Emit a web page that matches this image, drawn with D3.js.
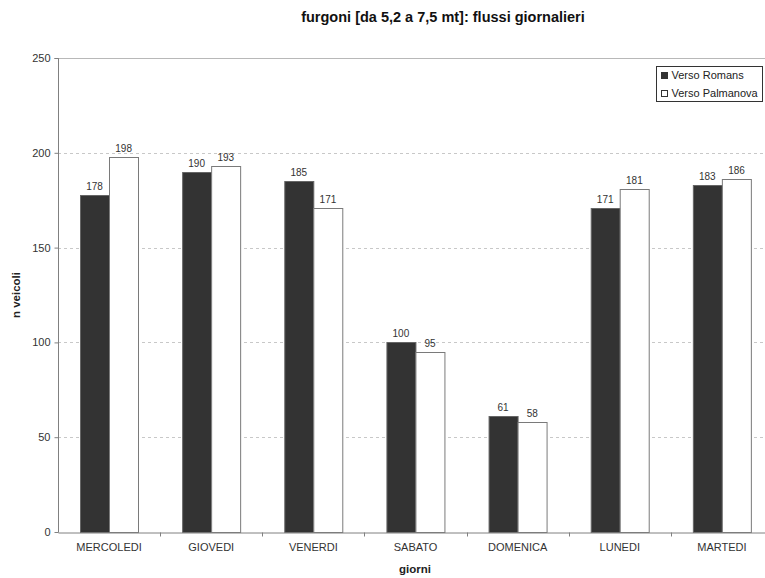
<!DOCTYPE html>
<html>
<head>
<meta charset="utf-8">
<script src="https://cdn.jsdelivr.net/npm/d3@7"></script>
<style>
  body { margin: 0; background: #fff; }
  svg { display: block; font-family: "Liberation Sans", Arial, sans-serif; }
</style>
</head>
<body>
<svg id="chart" width="765" height="578"></svg>
<script>
// dati: furgoni [da 5,2 a 7,5 mt]
const giorni = ['MERCOLEDI', 'GIOVEDI', 'VENERDI', 'SABATO', 'DOMENICA', 'LUNEDI', 'MARTEDI'];
const versoRomans = [178, 190, 185, 100, 61, 171, 183];
const versoPalmanova = [198, 193, 171, 95, 58, 181, 186];
const serie = ['Verso Romans', 'Verso Palmanova'];
const yTicks = [0, 50, 100, 150, 200, 250];

const svg = d3.select('#chart');
const m = { left: 58, top: 58, right: 773, bottom: 532 };

const x = d3.scaleBand().domain(giorni).range([m.left, m.right]).paddingInner(0).paddingOuter(0);
const inner = d3.scaleBand().domain(serie).range([0, x.bandwidth()]).paddingInner(0).paddingOuter(0.75);
const y = d3.scaleLinear().domain([0, 250]).range([m.bottom, m.top]);

const fills = { 'Verso Romans': '#333333', 'Verso Palmanova': '#ffffff' };
const strokes = { 'Verso Romans': '#666666', 'Verso Palmanova': '#7a7a7a' };

// gridlines
svg.append('g')
  .selectAll('line')
  .data(yTicks.filter((t) => t > 0))
  .join('line')
  .attr('x1', m.left).attr('x2', m.right)
  .attr('y1', (d) => Math.round(y(d)) + 0.5).attr('y2', (d) => Math.round(y(d)) + 0.5)
  .attr('stroke', (d) => (d === 250 ? '#b8b8b8' : '#c8c8c8'))
  .attr('stroke-dasharray', (d) => (d === 250 ? null : '3,3'));

// bars
const rows = giorni.map((g, i) => ({ g, vals: [versoRomans[i], versoPalmanova[i]] }));
const grp = svg.append('g')
  .selectAll('g')
  .data(rows)
  .join('g')
  .attr('transform', (d) => `translate(${x(d.g)},0)`);

grp.selectAll('rect')
  .data((d) => d.vals.map((v, j) => ({ s: serie[j], v })))
  .join('rect')
  .attr('x', (d) => Math.round(inner(d.s)) + 0.5)
  .attr('y', (d) => Math.round(y(d.v)) + 0.5)
  .attr('width', (d) => Math.round(inner.bandwidth()))
  .attr('height', (d) => Math.round(y(0)) - Math.round(y(d.v)))
  .attr('fill', (d) => fills[d.s])
  .attr('stroke', (d) => strokes[d.s])
  .attr('stroke-width', 1);

grp.selectAll('text')
  .data((d) => d.vals.map((v, j) => ({ s: serie[j], v })))
  .join('text')
  .attr('x', (d) => inner(d.s) + inner.bandwidth() / 2)
  .attr('y', (d) => y(d.v) - 5)
  .attr('text-anchor', 'middle')
  .attr('font-size', 10)
  .attr('fill', '#333')
  .text((d) => d.v);

// axes
const yAxis = svg.append('g')
  .attr('transform', `translate(${m.left + 0.5},0)`)
  .call(d3.axisLeft(y).tickValues(yTicks).tickSize(4).tickPadding(4));
yAxis.select('.domain').attr('stroke', '#808080').attr('d', `M-4,${Math.round(y(250)) + 0.5}H0V${Math.round(y(0)) + 0.5}`);
yAxis.selectAll('.tick line').attr('stroke', '#808080');
yAxis.selectAll('text').attr('font-size', 11).attr('fill', '#333').attr('font-family', null);

const xAxis = svg.append('g')
  .attr('transform', `translate(0,${Math.round(y(0)) + 0.5})`)
  .call(d3.axisBottom(x).tickSize(0).tickPadding(11));
xAxis.select('.domain').attr('stroke', '#808080');
xAxis.selectAll('text').attr('font-size', 11).attr('fill', '#333').attr('font-family', null);
// category separator ticks
xAxis.append('g')
  .selectAll('line')
  .data(giorni.slice(1))
  .join('line')
  .attr('x1', (d) => Math.round(x(d)) + 0.5).attr('x2', (d) => Math.round(x(d)) + 0.5)
  .attr('y1', 0).attr('y2', 4)
  .attr('stroke', '#808080');

// titles
svg.append('text')
  .attr('x', 443).attr('y', 22)
  .attr('text-anchor', 'middle')
  .attr('font-size', 14.5).attr('font-weight', 'bold').attr('fill', '#111')
  .text('furgoni [da 5,2 a 7,5 mt]: flussi giornalieri');

svg.append('text')
  .attr('x', 415).attr('y', 569)
  .attr('dy', '0.35em')
  .attr('text-anchor', 'middle')
  .attr('font-size', 11.5).attr('font-weight', 'bold').attr('fill', '#222')
  .text('giorni');

svg.append('text')
  .attr('transform', `translate(16,${(m.top + m.bottom) / 2}) rotate(-90)`)
  .attr('text-anchor', 'middle')
  .attr('dy', '0.35em')
  .attr('font-size', 11.5).attr('font-weight', 'bold').attr('fill', '#222')
  .text('n veicoli');

// legend
const lg = svg.append('g').attr('transform', 'translate(656.5,66.5)');
lg.append('rect')
  .attr('width', 106).attr('height', 35)
  .attr('fill', '#fff').attr('stroke', '#333');
const item = lg.selectAll('g.item')
  .data(serie)
  .join('g')
  .attr('class', 'item')
  .attr('transform', (d, i) => `translate(5,${9 + i * 18})`);
item.append('rect')
  .attr('x', 0).attr('y', -3).attr('width', 6).attr('height', 6)
  .attr('fill', (d) => fills[d]).attr('stroke', '#333');
item.append('text')
  .attr('x', 10).attr('dy', '0.35em')
  .attr('font-size', 11).attr('fill', '#222')
  .text((d) => d);
</script>
</body>
</html>
